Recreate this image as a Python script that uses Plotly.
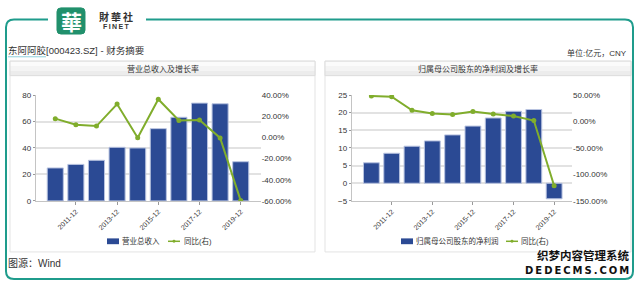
import plotly.graph_objects as go

# ---------------- data ----------------
categories = ["2010-12", "2011-12", "2012-12", "2013-12", "2014-12",
              "2015-12", "2016-12", "2017-12", "2018-12", "2019-12"]
tick_categories = categories[1::2]

revenue = [24.9, 27.6, 30.7, 40.5, 40.0, 54.6, 63.2, 73.9, 73.4, 29.6]
revenue_yoy = [17.7, 12.0, 10.7, 31.5, -0.4, 36.0, 15.9, 16.5, -0.5, -59.7]

net_profit = [5.8, 8.5, 10.5, 12.0, 13.7, 16.2, 18.5, 20.4, 20.9, -4.4]
net_profit_yoy = [48.2, 47.0, 21.3, 15.2, 13.4, 18.9, 14.0, 10.4, 1.8, -121.3]

left_y_ticks = [0, 20, 40, 60, 80]
left_r_ticks = [-60, -40, -20, 0, 20, 40]
left_r_text = ["-60.00%", "-40.00%", "-20.00%", "0.00%", "20.00%", "40.00%"]
right_y_ticks = [-5, 0, 5, 10, 15, 20, 25]
right_r_ticks = [-150, -100, -50, 0, 50]
right_r_text = ["-150.00%", "-100.00%", "-50.00%", "0.00%", "50.00%"]

W, H = 640, 286
BAR = "#2b4a94"
GREEN = "#80ad2c"
TEAL = "#1f9c8c"
FONT = "Liberation Sans, Noto Sans CJK SC, sans-serif"


def px(x):
    return x / W


def py(y):
    return 1 - y / H


fig = go.Figure()

fig.add_trace(go.Bar(x=categories, y=revenue, xaxis="x", yaxis="y",
                     marker=dict(color=BAR, line=dict(color="#b8c3e0", width=1)),
                     width=0.78, showlegend=False))
fig.add_trace(go.Scatter(x=categories, y=revenue_yoy, xaxis="x", yaxis="y2",
                         mode="lines+markers", line=dict(color=GREEN, width=2),
                         marker=dict(color=GREEN, size=5), showlegend=False))
fig.add_trace(go.Bar(x=categories, y=net_profit, xaxis="x2", yaxis="y3",
                     marker=dict(color=BAR, line=dict(color="#b8c3e0", width=1)),
                     width=0.78, showlegend=False))
fig.add_trace(go.Scatter(x=categories, y=net_profit_yoy, xaxis="x2", yaxis="y4",
                         mode="lines+markers", line=dict(color=GREEN, width=2),
                         marker=dict(color=GREEN, size=5), showlegend=False))

ydom = [py(203.3), py(94)]
tickfont = dict(family=FONT, size=8, color="#333")
xtickfont = dict(family=FONT, size=7, color="#333")
axis_common = dict(showline=True, linecolor="#c4c4c4", linewidth=1, zeroline=False)

fig.update_layout(
    width=W, height=H, margin=dict(l=0, r=0, t=0, b=0),
    paper_bgcolor="white", plot_bgcolor="rgba(0,0,0,0)",
    showlegend=False,
    xaxis=dict(domain=[px(35.7), px(260.7)], type="category",
               range=[-0.95, 9.97], tickvals=tick_categories,
               ticks="outside", ticklen=3, tickcolor="#999", tickangle=-45,
               tickfont=xtickfont, showgrid=False, anchor="y", **axis_common),
    yaxis=dict(domain=ydom, range=[0, 80], tickvals=left_y_ticks,
               showgrid=True, gridcolor="#e2e2e2", gridwidth=1.5,
               ticks="outside", ticklen=2, tickcolor="#999",
               tickfont=tickfont, anchor="x", **axis_common),
    yaxis2=dict(domain=ydom, range=[-60, 40], tickvals=left_r_ticks,
                ticktext=left_r_text, overlaying="y", side="right",
                showgrid=False, showline=False, zeroline=False,
                tickfont=tickfont, anchor="x"),
    xaxis2=dict(domain=[px(351.7), px(572)], type="category",
                range=[-0.97, 9.88], tickvals=tick_categories,
                ticks="outside", ticklen=3, tickcolor="#999", tickangle=-45,
                tickfont=xtickfont, showgrid=False, anchor="y3", **axis_common),
    yaxis3=dict(domain=ydom, range=[-5, 25], tickvals=right_y_ticks,
                showgrid=True, gridcolor="#e2e2e2", gridwidth=1.5,
                ticks="outside", ticklen=2, tickcolor="#999",
                tickfont=tickfont, anchor="x2", **axis_common),
    yaxis4=dict(domain=ydom, range=[-150, 50], tickvals=right_r_ticks,
                ticktext=right_r_text, overlaying="y3", side="right",
                showgrid=False, showline=False, zeroline=False,
                tickfont=tickfont, anchor="x2"),
)

shapes = []


def rect(x0, y0, x1, y1, fill, line="rgba(0,0,0,0)", lw=1, layer="below"):
    shapes.append(dict(type="rect", xref="paper", yref="paper",
                       x0=px(x0), x1=px(x1), y0=py(y1), y1=py(y0),
                       fillcolor=fill, line=dict(color=line, width=lw), layer=layer))


def path_px(points_cmds):
    out = []
    for cmd in points_cmds:
        if isinstance(cmd, str):
            out.append(cmd)
        else:
            out.append(f"{px(cmd[0]):.5f},{py(cmd[1]):.5f}")
    return " ".join(out)


# panels
rect(10, 59, 315, 256, "white", "#e3e3e3")
rect(325, 59, 631, 256, "white", "#e3e3e3")
# panel headers (gradient approximated with bands)
for (a, b) in [(10, 315), (325, 631)]:
    rect(a, 59, b, 64, "#fbfbfb")
    rect(a, 64, b, 69, "#f4f4f4")
    rect(a, 69, b, 74, "#ececec")
    rect(a, 59, b, 74, "rgba(0,0,0,0)", "#dcdcdc")

# outer teal frame
frame = path_px(["M", (48, 16), "L", (14, 16), "Q", (6, 16), (6, 24), "L", (6, 276),
                 "Q", (6, 284), (14, 284), "L", (625, 284), "Q", (633, 284), (633, 276),
                 "L", (633, 24), "Q", (633, 16), (625, 16), "L", (146, 16)])
shapes.append(dict(type="path", xref="paper", yref="paper", path=frame,
                   line=dict(color=TEAL, width=2), layer="above"))

# logo box
logo = path_px(["M", (61, 4), "L", (81, 4), "Q", (85, 4), (85, 8), "L", (85, 27),
                "Q", (85, 31), (81, 31), "L", (61, 31), "Q", (57, 31), (57, 27),
                "L", (57, 8), "Q", (57, 4), (61, 4), "Z"])
shapes.append(dict(type="path", xref="paper", yref="paper", path=logo,
                   fillcolor="#21906c", line=dict(color="#21906c", width=1), layer="above"))

# underline of the stock name
shapes.append(dict(type="line", xref="paper", yref="paper",
                   x0=px(8), x1=px(46), y0=py(54.5), y1=py(54.5),
                   line=dict(color="#8fd0dc", width=1)))


# legends (drawn)
def legend(x_rect, x_line, label1, x_text1, x_text2):
    shapes.append(dict(type="rect", xref="paper", yref="paper",
                       x0=px(x_rect), x1=px(x_rect + 12), y0=py(248), y1=py(242),
                       fillcolor=BAR, line=dict(color=BAR, width=0)))
    shapes.append(dict(type="line", xref="paper", yref="paper",
                       x0=px(x_line), x1=px(x_line + 12), y0=py(245), y1=py(245),
                       line=dict(color=GREEN, width=1.5)))
    shapes.append(dict(type="circle", xref="paper", yref="paper",
                       x0=px(x_line + 4.5), x1=px(x_line + 7.5), y0=py(246.5), y1=py(243.5),
                       fillcolor=GREEN, line=dict(color=GREEN, width=0)))
    return [
        dict(text=label1, x=px(x_text1), y=py(245), xanchor="left", yanchor="middle"),
        dict(text="同比(右)", x=px(x_text2), y=py(245), xanchor="left", yanchor="middle"),
    ]


leg_ann = legend(107, 168, "营业总收入", 121, 183) + \
          legend(401, 506, "归属母公司股东的净利润", 415, 520)

fig.update_layout(shapes=shapes)

annotations = []
for a in leg_ann:
    a.update(xref="paper", yref="paper", showarrow=False, borderpad=0,
             font=dict(family=FONT, size=7.5, color="#333"))
    annotations.append(a)


def text(t, x, y, size, color="#333", xanchor="left", bold=False, family=FONT):
    annotations.append(dict(text=f"<b>{t}</b>" if bold else t, x=px(x), y=py(y),
                            xref="paper", yref="paper", showarrow=False,
                            xanchor=xanchor, yanchor="middle",
                            borderpad=0,
                            font=dict(family=family, size=size, color=color)))


text("营业总收入及增长率", 162.5, 67, 8, xanchor="center")
text("归属母公司股东的净利润及增长率", 478, 67, 8, xanchor="center")
text("东阿阿胶[000423.SZ] - 财务摘要", 7, 48, 9.5)
text("单位:亿元，CNY", 628, 51, 8, xanchor="right")
text("图源：Wind", 7, 267, 10)
text("華", 71, 18, 21, color="white", xanchor="center", bold=True,
     family="Noto Sans CJK TC, sans-serif")
text("財\u2009華\u2009社", 116, 13, 10, color="#333", xanchor="center", bold=True,
     family="Noto Sans CJK TC, sans-serif")
text("F\u2009I\u2009N\u2009E\u2009T", 116, 23.5, 7, color="#333", xanchor="center", bold=True)
text("织梦内容管理系统", 630, 259, 11.5, color="#111", xanchor="right", bold=True,
     family="Noto Sans CJK SC, sans-serif")
text("D\u2009E\u2009D\u2009E\u2009C\u2009M\u2009S\u2009.\u2009C\u2009O\u2009M", 630, 275, 10,
     color="#111", xanchor="right", bold=True, family="DejaVu Sans, sans-serif")

fig.update_layout(annotations=annotations)

fig.write_html("out.html")
